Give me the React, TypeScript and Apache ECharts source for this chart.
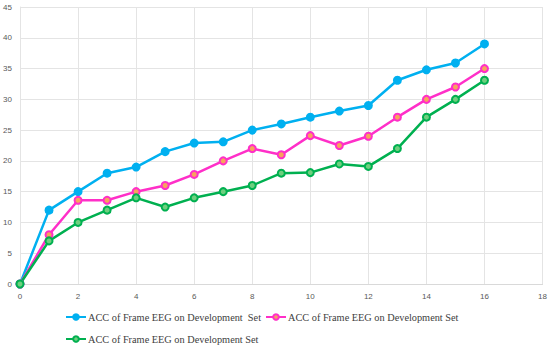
import React, { useEffect, useRef } from "react";
import * as echarts from "echarts";

const xValues = [0, 1, 2, 3, 4, 5, 6, 7, 8, 9, 10, 11, 12, 13, 14, 15, 16];
const blueValues = [0, 12, 15, 18, 19, 21.5, 22.9, 23.1, 25, 26, 27.1, 28.1, 29, 33.1, 34.8, 35.9, 39];
const pinkValues = [0, 8, 13.6, 13.6, 15, 16, 17.8, 20, 22, 21, 24.1, 22.5, 24, 27.1, 30, 32, 35];
const greenValues = [0, 7, 10, 12, 14, 12.5, 14, 15, 16, 18, 18.1, 19.5, 19.1, 22, 27.1, 30, 33.1];
const seriesNames = [
  "ACC of Frame EEG on Development  Set",
  "ACC of Frame EEG on Development Set ",
  "ACC of Frame EEG on Development Set",
];

const pairs = (ys: number[]) => xValues.map((x, i) => [x, ys[i]]);

export default function App() {
  const ref = useRef<HTMLDivElement>(null);
  useEffect(() => {
    if (!ref.current) return;
    const chart = echarts.init(ref.current, null, { renderer: "svg" });
    const legendText = {
      fontFamily: "Liberation Serif",
      fontSize: 10.3,
      color: "#404040",
      padding: [0, 0, 0, -3],
    };
    const mk = (name: string, data: number[], color: string, fill: string) => ({
      type: "line",
      name,
      data: pairs(data),
      symbol: "circle",
      symbolSize: 7,
      lineStyle: { color, width: 2.5 },
      itemStyle: { color: fill, borderColor: color, borderWidth: 2 },
    });
    chart.setOption({
      animation: false,
      grid: { left: 20, right: 7, top: 7, bottom: 68 },
      xAxis: {
        type: "value",
        min: 0,
        max: 18,
        interval: 2,
        axisLine: { show: true, lineStyle: { color: "#d9d9d9" } },
        axisTick: { show: false },
        axisLabel: { fontSize: 8, color: "#595959", fontFamily: "Liberation Sans", margin: 8 },
        splitLine: { show: true, lineStyle: { color: "#e4e4e4" } },
      },
      yAxis: {
        type: "value",
        min: 0,
        max: 45,
        interval: 5,
        axisLine: { show: true, lineStyle: { color: "#e4e4e4" } },
        axisTick: { show: false },
        axisLabel: { fontSize: 8, color: "#595959", fontFamily: "Liberation Sans", margin: 8 },
        splitLine: { show: true, lineStyle: { color: "#e4e4e4" } },
      },
      legend: [
        { data: [seriesNames[0]], left: 65, top: 312, itemWidth: 20, itemHeight: 7, itemGap: 2, padding: 0, textStyle: legendText },
        { data: [seriesNames[1]], left: 265, top: 312, itemWidth: 20, itemHeight: 7, itemGap: 2, padding: 0, textStyle: legendText },
        { data: [seriesNames[2]], left: 65, top: 334, itemWidth: 20, itemHeight: 7, itemGap: 2, padding: 0, textStyle: legendText },
      ],
      series: [
        mk(seriesNames[0], blueValues, "#00b0f0", "#00b0f0"),
        mk(seriesNames[1], pinkValues, "#ff2fc8", "#f7a35c"),
        mk(seriesNames[2], greenValues, "#00b050", "#6fcf7f"),
      ],
    });
    return () => chart.dispose();
  }, []);
  return <div ref={ref} style={{ width: 550, height: 352, position: "absolute", left: 0, top: 0, background: "#fff" }} />;
}
